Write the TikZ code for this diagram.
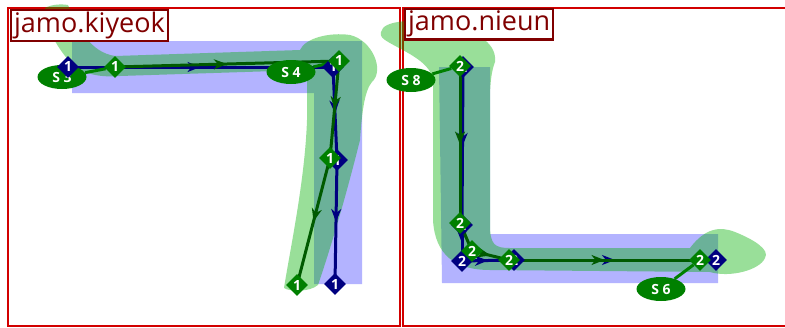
\documentclass[tikz,border=0pt]{standalone}
\usepackage{fontspec}
\setsansfont{Open Sans}
\usetikzlibrary{arrows.meta,shapes.geometric,decorations.markings,positioning}
\definecolor{framered}{RGB}{210,0,0}
\definecolor{labelred}{RGB}{128,0,0}
\definecolor{outlineblue}{RGB}{179,179,255}
\definecolor{strokegreen}{RGB}{0,176,0}
\definecolor{ptblue}{RGB}{0,0,128}
\definecolor{ptgreen}{RGB}{0,128,0}
\definecolor{lngreen}{RGB}{0,90,0}
\pgfdeclarelayer{shapes}
\pgfdeclarelayer{lines}
\pgfsetlayers{shapes,lines,main}
\tikzset{
  glyphframe/.style={draw=framered,line width=2.5pt},
  glyphname/.style={draw=labelred,fill=white,line width=2.2pt,text=labelred,anchor=north west,
    inner xsep=3pt,inner ysep=2pt,font=\sffamily\fontsize{27}{27}\selectfont},
  bluept/.style={diamond,fill=ptblue,minimum size=22pt,inner sep=0pt,text=white,
    font=\sffamily\bfseries\fontsize{14}{14}\selectfont},
  greenpt/.style={bluept,fill=ptgreen},
  segname/.style={ellipse,fill=ptgreen,minimum width=49pt,minimum height=24pt,inner sep=0pt,
    text=white,font=\sffamily\bfseries\fontsize{14}{14}\selectfont},
  midarrow/.style={postaction={decorate},decoration={markings,
    mark=at position 0.5 with {\arrow{Stealth[length=13pt,width=10pt,inset=4pt]}}}},
  blueline/.style={draw=ptblue,line width=3pt,midarrow},
  greenline/.style={draw=lngreen,line width=3pt,midarrow},
  tagline/.style={draw=ptgreen,line width=3pt},
}

\begin{document}
\begin{tikzpicture}[x=1pt,y=-1pt]
  \useasboundingbox (0,0) rectangle (785,327);
  \begin{pgfonlayer}{shapes}
    % frames
    \draw[glyphframe] (8,8) rectangle (400,326);
    \draw[glyphframe] (403,8) rectangle (800,326);
    % kiyeok outline and stroke
    \fill[outlineblue] (72,41) -- (362,41) -- (362,284) -- (314,284) -- (314,93) -- (72,93) -- cycle;
    \fill[strokegreen,opacity=0.4] (45,8) .. controls (52,4) and (62,4) .. (68,5)
      .. controls (80,30) and (90,52) .. (115,56) -- (300,50)
      .. controls (305,38) and (330,32) .. (350,35) .. controls (372,40) and (385,70) .. (372,82)
      .. controls (365,90) and (362,110) .. (360,140) .. controls (345,200) and (330,250) .. (318,285)
      .. controls (310,292) and (290,292) .. (284,288) .. controls (290,250) and (305,180) .. (307,120)
      -- (307,70) -- (120,76) .. controls (95,78) and (80,72) .. (70,62)
      .. controls (55,45) and (45,25) .. (45,8) -- cycle;
    % nieun outline and stroke
    \fill[outlineblue] (439,67) -- (490,67) -- (490,234) -- (718,234) -- (718,283) -- (442,283) -- cycle;
    \fill[strokegreen,opacity=0.4] (382,30) .. controls (385,20) and (420,18) .. (450,25)
      .. controls (480,32) and (497,45) .. (495,62) .. controls (492,70) and (490,80) .. (490,100)
      -- (490,225) .. controls (490,245) and (495,248) .. (510,248) -- (690,248)
      .. controls (705,228) and (720,226) .. (735,232) .. controls (755,240) and (770,250) .. (765,258)
      .. controls (760,270) and (730,278) .. (710,272) -- (490,270)
      .. controls (455,270) and (435,255) .. (433,220) -- (433,80)
      .. controls (430,60) and (400,50) .. (385,40) .. controls (380,37) and (380,33) .. (382,30) -- cycle;
  \end{pgfonlayer}

  % segment names
  \node[segname] (s3) at (62,77) {S 3};
  \node[segname] (s4) at (291,72) {S 4};
  \node[segname] (s8) at (411,80) {S 8};
  \node[segname] (s6) at (661,289) {S 6};

  % kiyeok points
  \node[bluept] (b11) at (68,67) {1};
  \node[bluept] (b12) at (333,67) {1};
  \node[bluept] (b13) at (337,160) {1};
  \node[bluept] (b14) at (335,284) {1};
  \node[greenpt] (g11) at (115,67) {1};
  \node[greenpt] (g12) at (339,61) {1};
  \node[greenpt] (g13) at (330,158) {1};
  \node[greenpt] (g14) at (297,285) {1};

  % nieun points
  \node[bluept] (b21) at (463,67) {2};
  \node[bluept] (b22) at (462,225) {2};
  \node[bluept] (b23) at (462,261) {2};
  \node[bluept] (b24) at (514,260) {2};
  \node[bluept] (b25) at (716,260) {2};
  \node[greenpt] (g21) at (460,66) {2};
  \node[greenpt] (g22) at (460,223) {2};
  \node[greenpt] (g23) at (472,251) {2};
  \node[greenpt] (g24) at (509,260) {2};
  \node[greenpt] (g25) at (700,260) {2};

  % glyph names
  \node[glyphname] (kiyeok) at (10,9) {jamo.kiyeok};
  \node[glyphname] (nieun) at (404,8) {jamo.nieun};

  \begin{pgfonlayer}{lines}
    \draw[blueline] (b11.center) -- (b12.center);
    \draw[blueline] (b12.center) -- (b13.center);
    \draw[blueline] (b13.center) -- (b14.center);
    \draw[greenline] (g11.center) -- (g12.center);
    \draw[greenline] (g12.center) -- (g13.center);
    \draw[greenline] (g13.center) -- (g14.center);
    \draw[blueline] (b21.center) -- (b22.center);
    \draw[blueline] (b22.center) -- (b23.center);
    \draw[blueline] (b23.center) -- (b24.center);
    \draw[blueline] (b24.center) -- (b25.center);
    \draw[greenline] (g21.center) -- (g22.center);
    \draw[greenline] (g22.center) -- (g23.center);
    \draw[greenline] (g23.center) -- (g24.center);
    \draw[greenline] (g24.center) -- (g25.center);
    \draw[tagline] (s3) -- (g11);
    \draw[tagline] (s4) -- (g12);
    \draw[tagline] (s8) -- (g21);
    \draw[tagline] (s6) -- (g25);
  \end{pgfonlayer}
\end{tikzpicture}
\end{document}
